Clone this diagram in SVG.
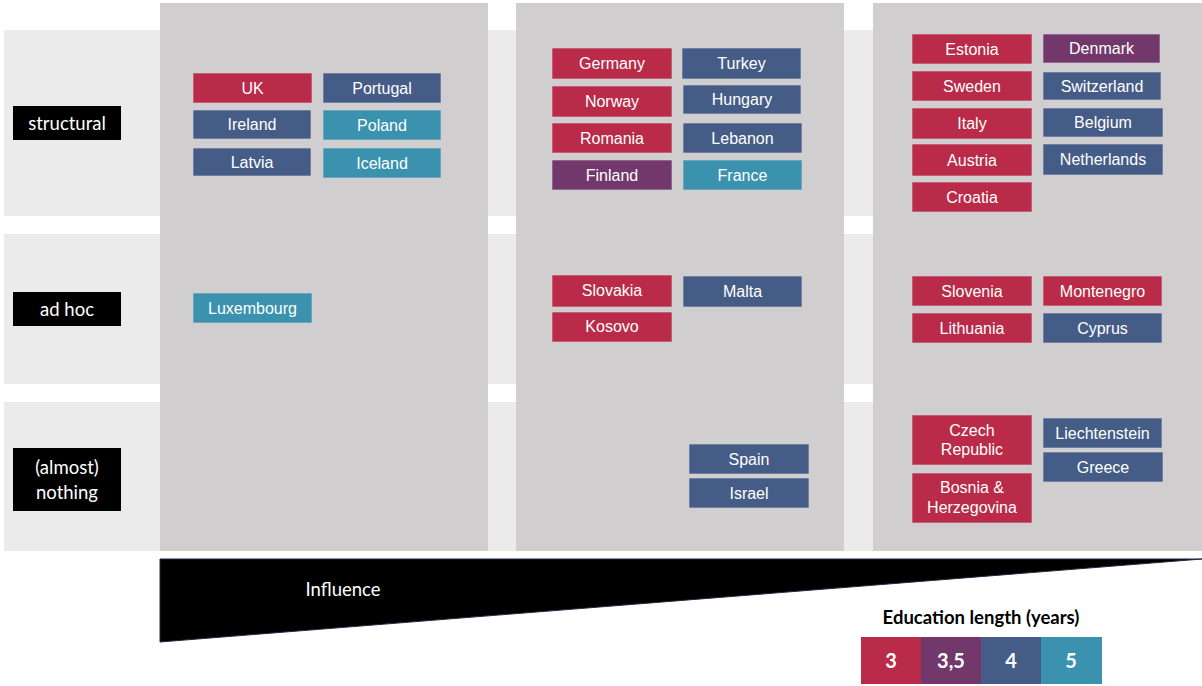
<svg xmlns="http://www.w3.org/2000/svg" width="1202" height="686" viewBox="0 0 1202 686">
  <style>
    .band { fill: #ebebeb; }
    .col { fill: #d0cecf; }
    .lbl { fill: #000000; }
    .lt { font-family: Lato, "Open Sans", sans-serif; font-size: 18.5px; fill: #ffffff; text-anchor: middle; }
    .c3 { fill: #b92b48; }
    .c35 { fill: #72386b; }
    .c4 { fill: #455c87; }
    .c5 { fill: #3a92ae; }
    .box { stroke: #d9d3dc; stroke-width: 1; stroke-opacity: 0.6; }
    .ct { font-family: "Liberation Sans", Arial, sans-serif; font-size: 16px; fill: #ffffff; text-anchor: middle; }
    .lg { font-family: Lato, "Open Sans", sans-serif; font-weight: bold; text-anchor: middle; }
  </style>

  <rect width="1202" height="686" fill="#ffffff"/>

  <!-- row bands -->
  <g id="rows">
    <rect class="band" x="4" y="30" width="1198" height="186"/>
    <rect class="band" x="4" y="234" width="1198" height="150"/>
    <rect class="band" x="4" y="402" width="1198" height="149"/>
  </g>

  <!-- influence columns -->
  <g id="columns">
    <rect class="col" x="160" y="3" width="328" height="548"/>
    <rect class="col" x="516" y="3" width="328" height="548"/>
    <rect class="col" x="873" y="3" width="329" height="548"/>
  </g>

  <!-- row labels -->
  <g id="label-structural">
    <rect class="lbl" x="13" y="106" width="108" height="34"/>
    <text class="lt" x="67" y="129.5">structural</text>
  </g>
  <g id="label-adhoc">
    <rect class="lbl" x="13" y="292" width="108" height="34"/>
    <text class="lt" x="67" y="315.5">ad hoc</text>
  </g>
  <g id="label-nothing">
    <rect class="lbl" x="13" y="448" width="108" height="63"/>
    <text class="lt" x="67" y="473.5">(almost)</text>
    <text class="lt" x="67" y="498.5">nothing</text>
  </g>

  <!-- column 1 -->
  <g id="uk"><rect class="box c3" x="193" y="73" width="119" height="30"/><text class="ct" x="252.5" y="93.5">UK</text></g>
  <g id="portugal"><rect class="box c4" x="323" y="73" width="118" height="30"/><text class="ct" x="382" y="93.5">Portugal</text></g>
  <g id="ireland"><rect class="box c4" x="193" y="110" width="118" height="29"/><text class="ct" x="252" y="130">Ireland</text></g>
  <g id="poland"><rect class="box c5" x="323" y="110" width="118" height="30"/><text class="ct" x="382" y="130.5">Poland</text></g>
  <g id="latvia"><rect class="box c4" x="193" y="148" width="118" height="28"/><text class="ct" x="252" y="167.5">Latvia</text></g>
  <g id="iceland"><rect class="box c5" x="323" y="148" width="118" height="30"/><text class="ct" x="382" y="168.5">Iceland</text></g>
  <g id="luxembourg"><rect class="box c5" x="193" y="293" width="119" height="30"/><text class="ct" x="252.5" y="313.5">Luxembourg</text></g>

  <!-- column 2 -->
  <g id="germany"><rect class="box c3" x="552" y="48" width="120" height="31"/><text class="ct" x="612" y="69">Germany</text></g>
  <g id="turkey"><rect class="box c4" x="682" y="48" width="119" height="31"/><text class="ct" x="741.5" y="69">Turkey</text></g>
  <g id="norway"><rect class="box c3" x="552" y="86" width="120" height="31"/><text class="ct" x="612" y="107">Norway</text></g>
  <g id="hungary"><rect class="box c4" x="683" y="85" width="118" height="29"/><text class="ct" x="742" y="105">Hungary</text></g>
  <g id="romania"><rect class="box c3" x="552" y="123" width="120" height="30"/><text class="ct" x="612" y="143.5">Romania</text></g>
  <g id="lebanon"><rect class="box c4" x="683" y="123" width="119" height="30"/><text class="ct" x="742.5" y="143.5">Lebanon</text></g>
  <g id="finland"><rect class="box c35" x="552" y="160" width="120" height="30"/><text class="ct" x="612" y="180.5">Finland</text></g>
  <g id="france"><rect class="box c5" x="683" y="160" width="119" height="30"/><text class="ct" x="742.5" y="180.5">France</text></g>
  <g id="slovakia"><rect class="box c3" x="552" y="275" width="120" height="32"/><text class="ct" x="612" y="295.5">Slovakia</text></g>
  <g id="malta"><rect class="box c4" x="683" y="276" width="119" height="31"/><text class="ct" x="742.5" y="297">Malta</text></g>
  <g id="kosovo"><rect class="box c3" x="552" y="312" width="120" height="30"/><text class="ct" x="612" y="332">Kosovo</text></g>
  <g id="spain"><rect class="box c4" x="689" y="444" width="120" height="30"/><text class="ct" x="749" y="464.5">Spain</text></g>
  <g id="israel"><rect class="box c4" x="689" y="478" width="120" height="30"/><text class="ct" x="749" y="498.5">Israel</text></g>

  <!-- column 3 -->
  <g id="estonia"><rect class="box c3" x="912" y="34" width="120" height="30"/><text class="ct" x="972" y="54.5">Estonia</text></g>
  <g id="denmark"><rect class="box c35" x="1043" y="34" width="117" height="29"/><text class="ct" x="1101.5" y="54">Denmark</text></g>
  <g id="sweden"><rect class="box c3" x="912" y="71" width="120" height="30"/><text class="ct" x="972" y="91.5">Sweden</text></g>
  <g id="switzerland"><rect class="box c4" x="1043" y="72" width="118" height="28"/><text class="ct" x="1102" y="91.5">Switzerland</text></g>
  <g id="italy"><rect class="box c3" x="912" y="108" width="120" height="31"/><text class="ct" x="972" y="129">Italy</text></g>
  <g id="belgium"><rect class="box c4" x="1043" y="108" width="120" height="29"/><text class="ct" x="1103" y="128">Belgium</text></g>
  <g id="austria"><rect class="box c3" x="912" y="144" width="120" height="32"/><text class="ct" x="972" y="165.5">Austria</text></g>
  <g id="netherlands"><rect class="box c4" x="1043" y="144" width="120" height="31"/><text class="ct" x="1103" y="165">Netherlands</text></g>
  <g id="croatia"><rect class="box c3" x="912" y="182" width="120" height="30"/><text class="ct" x="972" y="202.5">Croatia</text></g>
  <g id="slovenia"><rect class="box c3" x="912" y="276" width="120" height="30"/><text class="ct" x="972" y="296.5">Slovenia</text></g>
  <g id="montenegro"><rect class="box c3" x="1043" y="276" width="119" height="30"/><text class="ct" x="1102.5" y="296.5">Montenegro</text></g>
  <g id="lithuania"><rect class="box c3" x="912" y="313" width="120" height="30"/><text class="ct" x="972" y="333.5">Lithuania</text></g>
  <g id="cyprus"><rect class="box c4" x="1043" y="313" width="119" height="30"/><text class="ct" x="1102.5" y="333.5">Cyprus</text></g>
  <g id="czech-republic"><rect class="box c3" x="912" y="415" width="120" height="50"/><text class="ct" x="972" y="435.5">Czech</text><text class="ct" x="972" y="454.5">Republic</text></g>
  <g id="bosnia"><rect class="box c3" x="912" y="473" width="120" height="50"/><text class="ct" x="972" y="492.5">Bosnia &amp;</text><text class="ct" x="972" y="512.5">Herzegovina</text></g>
  <g id="liechtenstein"><rect class="box c4" x="1043" y="418" width="119" height="30"/><text class="ct" x="1102.5" y="438.5">Liechtenstein</text></g>
  <g id="greece"><rect class="box c4" x="1043" y="452" width="120" height="30"/><text class="ct" x="1103" y="472.5">Greece</text></g>

  <!-- influence wedge -->
  <g id="influence">
    <polygon points="160,559 1202,559 160,642" fill="#000000" stroke="#1f2a44" stroke-width="1"/>
    <text class="lt" x="343" y="595.5">Influence</text>
  </g>

  <!-- legend -->
  <g id="legend">
    <text class="lg" x="981" y="624" font-size="18.5" fill="#000000">Education length (years)</text>
    <rect class="c3" x="861" y="637" width="60" height="47"/>
    <rect class="c35" x="921" y="637" width="60" height="47"/>
    <rect class="c4" x="981" y="637" width="60" height="47"/>
    <rect class="c5" x="1041" y="637" width="61" height="47"/>
    <g class="lg" font-size="20" fill="#ffffff">
      <text x="891" y="667.5">3</text>
      <text x="951" y="667.5">3,5</text>
      <text x="1011" y="667.5">4</text>
      <text x="1071" y="667.5">5</text>
    </g>
  </g>
</svg>
